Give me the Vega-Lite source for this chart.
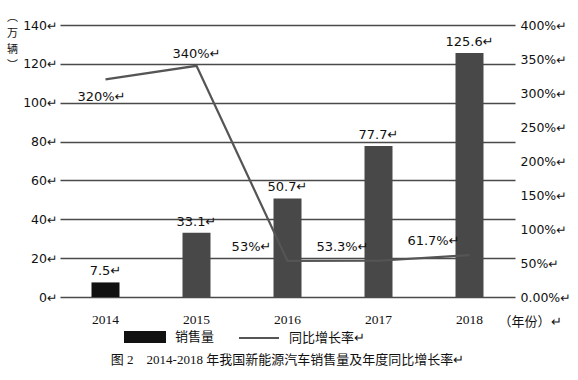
{
  "$schema": "https://vega.github.io/schema/vega-lite/v6.json",
  "width": 455,
  "height": 272,
  "autosize": {"type": "none"},
  "padding": {"left": 60, "top": 25, "right": 63, "bottom": 83},
  "background": "white",
  "config": {"view": {"stroke": null}, "font": "DejaVu Sans"},
  "title": {
    "text": "图 2　2014-2018 年我国新能源汽车销售量及年度同比增长率↵",
    "orient": "bottom",
    "anchor": "middle",
    "offset": 8,
    "fontSize": 13,
    "fontWeight": "normal",
    "font": "Liberation Serif, Noto Sans CJK SC",
    "color": "#111"
  },
  "data": {
    "values": [
      {"year": "2014", "sales": 7.5, "growth": 320},
      {"year": "2015", "sales": 33.1, "growth": 340},
      {"year": "2016", "sales": 50.7, "growth": 53},
      {"year": "2017", "sales": 77.7, "growth": 53.3},
      {"year": "2018", "sales": 125.6, "growth": 61.7}
    ]
  },
  "encoding": {
    "x": {
      "field": "year",
      "type": "ordinal",
      "scale": {"paddingInner": 0, "paddingOuter": 0},
      "axis": {
        "orient": "bottom",
        "domain": false,
        "ticks": false,
        "labelAngle": 0,
        "labelPadding": 15,
        "labelFont": "Liberation Serif",
        "labelFontSize": 13.5,
        "labelColor": "#111",
        "title": "（年份）↵",
        "titleX": 438,
        "titleY": 24,
        "titleAlign": "left",
        "titleBaseline": "middle",
        "titleFont": "Noto Sans CJK SC",
        "titleFontSize": 13,
        "titleFontWeight": "normal",
        "titleColor": "#111"
      }
    }
  },
  "layer": [
    {
      "encoding": {
        "y": {
          "field": "sales",
          "type": "quantitative",
          "scale": {"domain": [0, 140]},
          "axis": {
            "orient": "left",
            "values": [0, 20, 40, 60, 80, 100, 120, 140],
            "domain": false,
            "ticks": false,
            "labelPadding": 3,
            "labelFontSize": 12.5,
            "labelColor": "#111",
            "labelExpr": "datum.label + '↵'",
            "gridColor": "#4a4a4a",
            "gridWidth": 1.6,
            "title": ["︵", "万", "辆", "︶"],
            "titleAngle": 0,
            "titleX": -48,
            "titleY": -14,
            "titleAlign": "center",
            "titleBaseline": "top",
            "titleFont": "Noto Sans CJK SC",
            "titleFontSize": 11,
            "titleFontWeight": "normal",
            "titleLineHeight": 16,
            "titleColor": "#111"
          }
        }
      },
      "layer": [
        {
          "mark": {"type": "bar", "size": 28},
          "encoding": {
            "color": {
              "condition": {"test": "datum.year != '2014'", "value": "#484848"},
              "datum": "销售量",
              "scale": {"domain": ["销售量", "同比增长率"], "range": ["#111111", "#555555"]},
              "legend": {
                "orient": "none",
                "legendX": 64,
                "legendY": 291,
                "direction": "horizontal",
                "title": null,
                "symbolSize": 1600,
                "symbolType": "M-1,-0.25H1V0.25H-1Z",
                "symbolStrokeWidth": 2,
                "labelFont": "Noto Sans CJK SC",
                "labelFontSize": 13,
                "labelColor": "#111",
                "labelOffset": 9,
                "columnPadding": 20,
                "labelExpr": "datum.label == '同比增长率' ? datum.label + '↵' : datum.label",
                "encode": {
                  "symbols": {
                    "update": {
                      "shape": {"signal": "datum.value == '销售量' ? 'M-1,-0.25H1V0.25H-1Z' : 'M-1,0H1'"},
                      "fill": {"signal": "datum.value == '销售量' ? '#111' : 'transparent'"},
                      "stroke": {"signal": "datum.value == '销售量' ? '#111' : '#555'"}
                    }
                  }
                }
              }
            }
          }
        },
        {
          "mark": {
            "type": "text",
            "dy": -4,
            "baseline": "bottom",
            "fontSize": 13,
            "color": "#111",
            "font": "DejaVu Sans",
            "text": {"expr": "datum.sales + '↵'"}
          },
          "encoding": {}
        }
      ]
    },
    {
      "encoding": {
        "y": {
          "field": "growth",
          "type": "quantitative",
          "scale": {"domain": [0, 400]},
          "axis": {
            "orient": "right",
            "values": [0, 50, 100, 150, 200, 250, 300, 350, 400],
            "domain": false,
            "ticks": false,
            "grid": false,
            "labelPadding": 5,
            "labelFontSize": 12.5,
            "labelColor": "#111",
            "labelExpr": "datum.value == 0 ? '0.00%↵' : datum.value + '%↵'",
            "title": null
          }
        }
      },
      "layer": [
        {
          "mark": {"type": "line", "strokeWidth": 2.2},
          "encoding": {"color": {"datum": "同比增长率"}}
        },
        {
          "transform": [{"filter": "datum.year == '2014'"}],
          "mark": {"type": "text", "dy": 18, "dx": -4, "fontSize": 13, "color": "#111", "text": {"expr": "datum.growth + '%↵'"}},
          "encoding": {}
        },
        {
          "transform": [{"filter": "datum.year == '2015'"}],
          "mark": {"type": "text", "dy": -12, "fontSize": 13, "color": "#111", "text": {"expr": "datum.growth + '%↵'"}},
          "encoding": {}
        },
        {
          "transform": [{"filter": "datum.year != '2014' && datum.year != '2015'"}],
          "mark": {"type": "text", "dy": -14, "dx": -36, "fontSize": 13, "color": "#111", "text": {"expr": "datum.growth + '%↵'"}},
          "encoding": {}
        }
      ]
    }
  ],
  "resolve": {"scale": {"y": "independent"}}
}
